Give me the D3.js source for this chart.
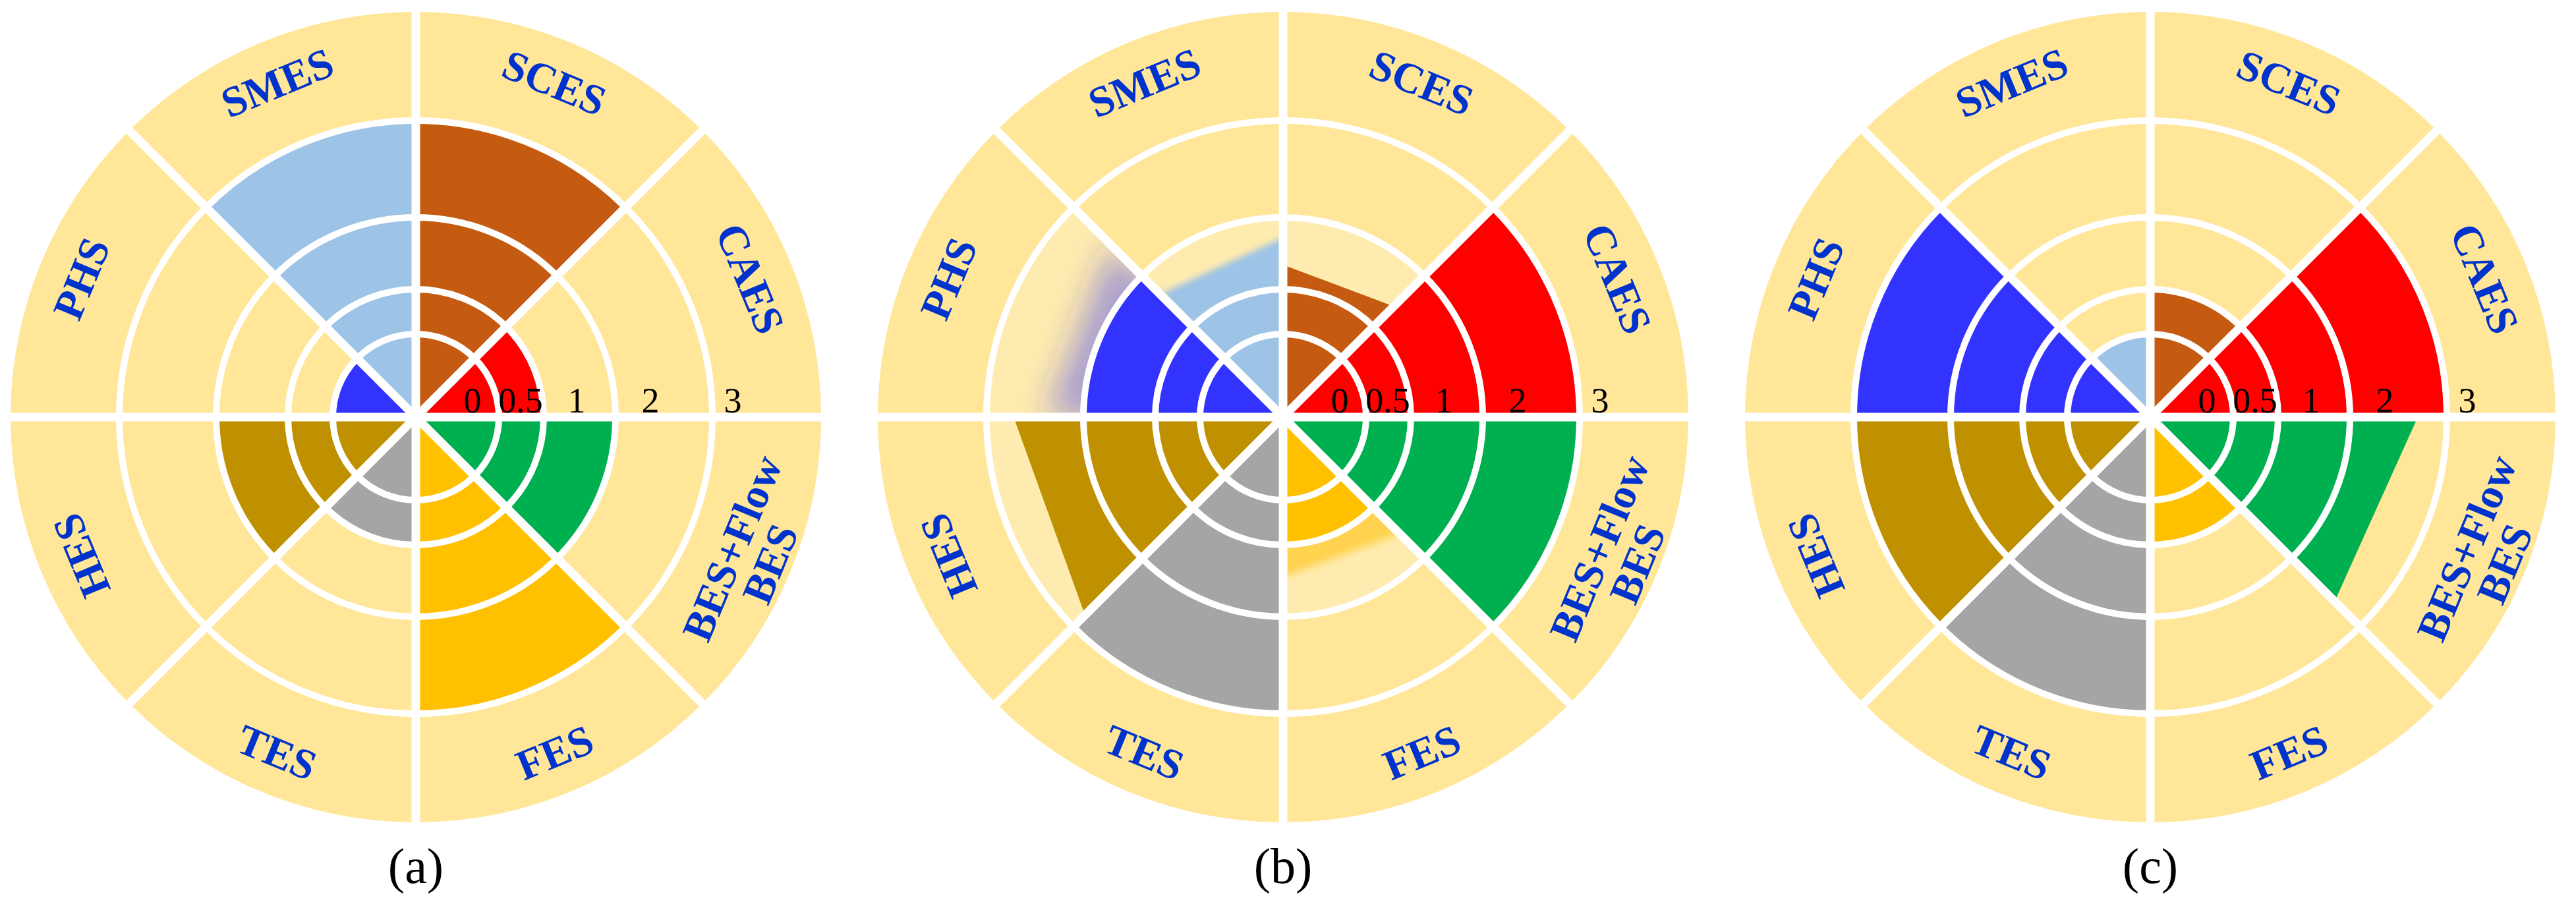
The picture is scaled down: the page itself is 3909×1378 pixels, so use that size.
<!DOCTYPE html>
<html lang="en">
<head>
<meta charset="UTF-8">
<title>Energy storage technologies - polar comparison</title>
<script src="https://d3js.org/d3.v7.min.js"></script>
<style>
    body { margin: 0; background: #fff; }
    svg { display: block; }
    text { font-family: "Liberation Serif", "Times New Roman", "DejaVu Serif", serif; }
</style>
</head>
<body>
<svg id="chart"></svg>
<script>
    // categories clockwise from 12 o'clock
    const categories = ["SCES", "CAES", "BES+Flow BES", "FES", "TES", "HES", "PHS", "SMES"];
    const labelLines = [["SCES"], ["CAES"], ["BES+Flow", "BES"], ["FES"], ["TES"], ["HES"], ["PHS"], ["SMES"]];
    const barColors = ["#C55A11", "#FF0000", "#00B050", "#FFC000", "#A5A5A5", "#BF9000", "#3333FF", "#9DC3E6"];
    const tickValues = [0, 0.5, 1, 2, 3];
    const panelNames = ["(a)", "(b)", "(c)"];

    // ring level reached by each bar (1 = innermost ring)
    const levelsA = [4, 2, 3, 4, 2, 3, 1, 4];
    const levelsB = [2, 4, 4, 2, 4, 3, 3, 2];
    const levelsC = [2, 4, 3, 2, 4, 4, 4, 1];

    // straight caps: [level at start edge, level at end edge]
    const capsA = [null, null, null, null, null, null, null, null];
    const capsB = [[2.34, 2.40], null, null, [2.52, 2.45], null, [3.83, 3.72], [3.38, 3.44], [2.64, 2.72]];
    const capsC = [null, null, [3.70, 3.63], null, null, null, null, null];

    // lighter band behind a bar (outer ring level, 0 = none)
    const patchA = [0, 0, 0, 0, 0, 0, 0, 0];
    const patchB = [3, 0, 0, 3, 0, 4, 4, 3];
    const patchC = [0, 0, 0, 0, 0, 0, 0, 0];

    const panels = [
        {levels: levelsA, caps: capsA, patch: patchA},
        {levels: levelsB, caps: capsB, patch: patchB},
        {levels: levelsC, caps: capsC, patch: patchC}
    ];

    const W = 3909, H = 1378;
    const BG = "#FFE699", PATCH = "#FEEBAF", TEXT_BLUE = "#0033CC";
    // soft (blurred) caps in panel (b): sector index -> blur, opacity
    const softCaps = {1: {3: {blur: 6, opacity: 0.55}, 6: {blur: 24, opacity: 0.42}, 7: {blur: 5, opacity: 1}}};

    const svg = d3.select("#chart").attr("width", W).attr("height", H);
    svg.append("rect").attr("width", W).attr("height", H).attr("fill", "#fff");
    const defs = svg.append("defs");

    // ring index -> radius
    const rScale = d3.scaleLinear().domain([0, 1, 2, 3, 4, 5]).range([0, 126, 194, 303, 450, 615]);
    // tick value -> label radius
    const tickScale = d3.scaleLinear().domain(tickValues).range([86, 159, 244, 356, 481]);
    const panelX = d3.scalePoint().domain(panelNames).range([631, 3263]);
    const centerY = 633;

    const n = categories.length;
    const sa = 2 * Math.PI / n;
    const arc = d3.arc().innerRadius(0);
    const pt = (a, r) => [r * Math.sin(a), -r * Math.cos(a)];

    Object.values(softCaps).forEach(m => Object.values(m).forEach(s => {
        if (!defs.select("#blur" + s.blur).empty()) return;
        defs.append("filter").attr("id", "blur" + s.blur)
            .attr("x", "-50%").attr("y", "-50%").attr("width", "200%").attr("height", "200%")
            .append("feGaussianBlur").attr("stdDeviation", s.blur);
    }));

    panels.forEach((p, pi) => {
        const g = svg.append("g")
            .attr("transform", `translate(${panelX(panelNames[pi])},${centerY})`);

        g.append("circle").attr("r", rScale(5)).attr("fill", BG);

        // lighter bands
        p.patch.forEach((lv, i) => {
            if (!lv) return;
            g.append("path")
                .attr("d", arc({startAngle: i * sa, endAngle: (i + 1) * sa, outerRadius: rScale(lv)}))
                .attr("fill", PATCH);
        });

        // straight caps
        p.caps.forEach((c, i) => {
            if (!c) return;
            const a0 = i * sa, a1 = (i + 1) * sa;
            const d = "M0,0L" + pt(a0, rScale(c[0])) + "L" + pt(a1, rScale(c[1])) + "Z";
            const soft = softCaps[pi] && softCaps[pi][i];
            if (soft) {
                const cid = `clip${pi}_${i}`;
                defs.append("clipPath").attr("id", cid)
                    .append("path")
                    .attr("d", arc({startAngle: a0, endAngle: a1, outerRadius: rScale(4)}));
                g.append("g").attr("clip-path", `url(#${cid})`)
                    .append("path").attr("d", d)
                    .attr("fill", barColors[i])
                    .attr("fill-opacity", soft.opacity)
                    .attr("filter", `url(#blur${soft.blur})`);
            } else {
                g.append("path").attr("d", d).attr("fill", barColors[i]);
            }
        });

        // bars
        p.levels.forEach((lv, i) => {
            g.append("path")
                .attr("d", arc({startAngle: i * sa, endAngle: (i + 1) * sa, outerRadius: rScale(lv)}))
                .attr("fill", barColors[i]);
        });

        // rings
        g.selectAll(".ring").data(d3.range(1, 5)).join("circle")
            .attr("class", "ring")
            .attr("r", d => rScale(d))
            .attr("fill", "none")
            .attr("stroke", "#fff")
            .attr("stroke-width", 10);

        // spokes
        g.selectAll(".spoke").data(d3.range(n)).join("line")
            .attr("class", "spoke")
            .attr("x1", 0).attr("y1", 0)
            .attr("x2", d => pt(d * sa, rScale(5) + 2)[0])
            .attr("y2", d => pt(d * sa, rScale(5) + 2)[1])
            .attr("stroke", "#fff")
            .attr("stroke-width", 13);

        // category labels, bottom ones flipped upright
        const flip = [false, false, true, true, true, false, false, false];
        labelLines.forEach((lines, i) => {
            const m = (i + 0.5) * sa;
            const [x, y] = pt(m, 550);
            const rot = m * 180 / Math.PI - (flip[i] ? 180 : 0);
            const t = g.append("text")
                .attr("transform", `translate(${x},${y}) rotate(${rot})`)
                .attr("text-anchor", "middle")
                .attr("font-weight", "bold")
                .attr("font-size", 65)
                .attr("fill", TEXT_BLUE);
            lines.forEach((s, k) => {
                t.append("tspan")
                    .attr("x", 0)
                    .attr("dy", k === 0 ? `${0.35 - (lines.length - 1) * 0.48}em` : "0.96em")
                    .text(s);
            });
        });

        // radial tick labels
        g.selectAll(".tick").data(tickValues).join("text")
            .attr("class", "tick")
            .attr("x", d => tickScale(d))
            .attr("y", -7)
            .attr("text-anchor", "middle")
            .attr("font-size", 54)
            .attr("fill", "#000")
            .text(d => d);

        // panel caption
        g.append("text")
            .attr("x", 0)
            .attr("y", 1340 - centerY)
            .attr("text-anchor", "middle")
            .attr("font-size", 76)
            .attr("fill", "#000")
            .text(panelNames[pi]);
    });
</script>
</body>
</html>
